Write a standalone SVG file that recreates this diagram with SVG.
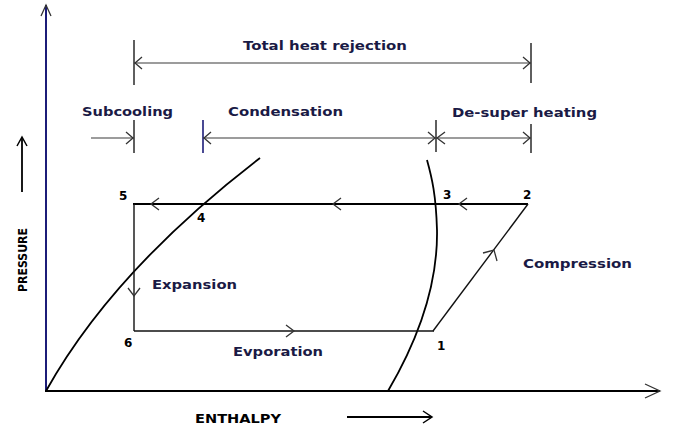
<svg xmlns="http://www.w3.org/2000/svg" width="673" height="427" viewBox="0 0 673 427">
<style>
.dim{stroke:#3a3a3a;stroke-width:1.2;fill:none}
.tick{stroke:#2a2a2a;stroke-width:1.5;fill:none}
.cyc{stroke:#000;stroke-width:2;fill:none}
.thin{stroke:#111;stroke-width:1.4;fill:none}
.curve{stroke:#000;stroke-width:1.8;fill:none}
.ah{stroke:#333;stroke-width:1.3;fill:none}
.lbl{font-family:"DejaVu Sans",Verdana,sans-serif;font-size:13px;font-weight:600;fill:#1a1a45}
.num{font-family:"DejaVu Sans",Verdana,sans-serif;font-size:12px;font-weight:bold;fill:#000}
.ax{font-family:"DejaVu Sans Condensed","Liberation Sans Narrow",sans-serif;font-size:13px;font-weight:bold;fill:#000}
</style>
<rect width="673" height="427" fill="#fff"/>
<g id="axes">
<line x1="46" y1="5" x2="46" y2="392" stroke="#1c1c78" stroke-width="2"/>
<polyline class="ah" points="41,16 46,5 51,16"/>
<line x1="45" y1="391" x2="660" y2="391" stroke="#000" stroke-width="2"/>
<polyline class="ah" points="645,384 660,391 645,398"/>
<text class="ax" transform="translate(27,260) rotate(-90)" text-anchor="middle" textLength="64" lengthAdjust="spacingAndGlyphs">PRESSURE</text>
<line x1="22" y1="192" x2="22" y2="138" stroke="#000" stroke-width="1.8"/>
<polyline points="17,146 22,137 27,146" fill="none" stroke="#000" stroke-width="1.5"/>
<text class="ax" x="195" y="423" textLength="86" lengthAdjust="spacingAndGlyphs">ENTHALPY</text>
<line x1="347" y1="417" x2="431" y2="417" stroke="#000" stroke-width="1.8"/>
<polyline points="423,411 432,417 423,423" fill="none" stroke="#000" stroke-width="1.5"/>
</g>
<g id="total-heat-rejection">
<line class="tick" x1="134" y1="40" x2="134" y2="85"/>
<line class="tick" x1="531" y1="43" x2="531" y2="83"/>
<line class="dim" x1="134" y1="63" x2="531" y2="63"/>
<polyline class="ah" points="142,57 135,63 142,69"/>
<polyline class="ah" points="523,57 530,63 523,69"/>
<text class="lbl" x="243" y="50" textLength="164" lengthAdjust="spacingAndGlyphs">Total heat rejection</text>
</g>
<g id="subcooling">
<line class="tick" x1="134" y1="120" x2="134" y2="153"/>
<line class="dim" x1="91" y1="138" x2="134" y2="138"/>
<polyline class="ah" points="126,132 133,138 126,144"/>
<text class="lbl" x="82" y="116" textLength="91" lengthAdjust="spacingAndGlyphs">Subcooling</text>
</g>
<g id="condensation">
<line x1="203" y1="120" x2="203" y2="153" stroke="#1c1c78" stroke-width="1.6"/>
<line class="tick" x1="436" y1="120" x2="436" y2="152"/>
<line class="dim" x1="203" y1="138" x2="436" y2="138"/>
<polyline class="ah" points="211,132 204,138 211,144"/>
<polyline class="ah" points="428,132 435,138 428,144"/>
<text class="lbl" x="228" y="116" textLength="115" lengthAdjust="spacingAndGlyphs">Condensation</text>
</g>
<g id="de-super-heating">
<line class="tick" x1="531" y1="124" x2="531" y2="153"/>
<line class="dim" x1="436" y1="138" x2="531" y2="138"/>
<polyline class="ah" points="445,132 437,138 445,144"/>
<polyline class="ah" points="523,132 530,138 523,144"/>
<text class="lbl" x="452" y="117" textLength="145" lengthAdjust="spacingAndGlyphs">De-super heating</text>
</g>
<g id="saturation-curves">
<path class="curve" d="M46,391 C80,330 140,250 260,158"/>
<path class="curve" d="M388,391 C415,345 438,290 437,230 C436,195 432,178 427,160"/>
</g>
<g id="connectors">
<line class="cyc" x1="133" y1="204" x2="528" y2="204"/>
<line class="thin" x1="134" y1="204" x2="134" y2="331"/>
<line class="thin" x1="134" y1="331" x2="434" y2="331"/>
<line class="thin" x1="433" y1="331" x2="528" y2="204"/>
<polyline class="ah" points="159,198 151,204 159,210"/>
<polyline class="ah" points="341,198 333,204 341,210"/>
<polyline class="ah" points="467,198 459,204 467,210"/>
<polyline class="ah" points="128,288 134,296 140,288"/>
<polyline class="ah" points="286,325 294,331 286,337"/>
<polyline class="ah" points="483,253 494,250 497,261"/>
</g>
<g id="labels">
<text class="num" x="119" y="200">5</text>
<text class="num" x="197" y="222">4</text>
<text class="num" x="443" y="199">3</text>
<text class="num" x="523" y="199">2</text>
<text class="num" x="124" y="347">6</text>
<text class="num" x="437" y="350">1</text>
<text class="lbl" x="152" y="289" textLength="85" lengthAdjust="spacingAndGlyphs">Expansion</text>
<text class="lbl" x="233" y="356" textLength="90" lengthAdjust="spacingAndGlyphs">Evporation</text>
<text class="lbl" x="523" y="268" textLength="109" lengthAdjust="spacingAndGlyphs">Compression</text>
</g>
</svg>
